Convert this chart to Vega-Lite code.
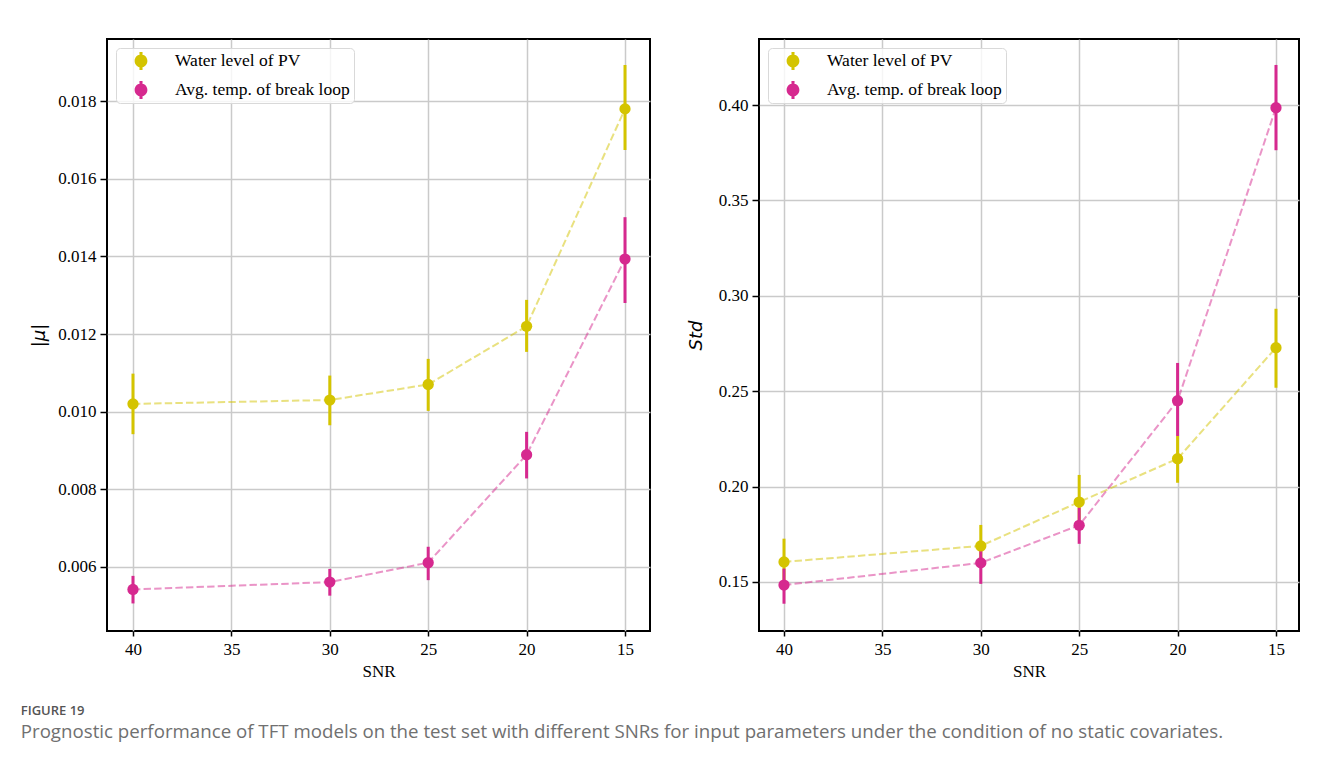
{
  "$schema": "https://vega.github.io/schema/vega-lite/v6.json",
  "padding": {"left": 20, "top": 38, "right": 10, "bottom": 10},
  "background": "white",
  "datasets": {
    "mu": [
      {"snr": 40, "series": "Water level of PV", "value": 0.0102, "lo": 0.00942, "hi": 0.01098},
      {"snr": 30, "series": "Water level of PV", "value": 0.0103, "lo": 0.00965, "hi": 0.01093},
      {"snr": 25, "series": "Water level of PV", "value": 0.0107, "lo": 0.01002, "hi": 0.01136},
      {"snr": 20, "series": "Water level of PV", "value": 0.0122, "lo": 0.01154, "hi": 0.01288},
      {"snr": 15, "series": "Water level of PV", "value": 0.0178, "lo": 0.01674, "hi": 0.01893},
      {"snr": 40, "series": "Avg. temp. of break loop", "value": 0.00542, "lo": 0.00506, "hi": 0.00577},
      {"snr": 30, "series": "Avg. temp. of break loop", "value": 0.00561, "lo": 0.00526, "hi": 0.00595},
      {"snr": 25, "series": "Avg. temp. of break loop", "value": 0.00611, "lo": 0.00566, "hi": 0.00652},
      {"snr": 20, "series": "Avg. temp. of break loop", "value": 0.00889, "lo": 0.00828, "hi": 0.00948},
      {"snr": 15, "series": "Avg. temp. of break loop", "value": 0.01393, "lo": 0.0128, "hi": 0.01501}
    ],
    "std": [
      {"snr": 40, "series": "Water level of PV", "value": 0.1605, "lo": 0.149, "hi": 0.1727},
      {"snr": 30, "series": "Water level of PV", "value": 0.1689, "lo": 0.158, "hi": 0.1799},
      {"snr": 25, "series": "Water level of PV", "value": 0.1919, "lo": 0.178, "hi": 0.2061},
      {"snr": 20, "series": "Water level of PV", "value": 0.2146, "lo": 0.202, "hi": 0.2265},
      {"snr": 15, "series": "Water level of PV", "value": 0.2728, "lo": 0.2518, "hi": 0.2932},
      {"snr": 40, "series": "Avg. temp. of break loop", "value": 0.1484, "lo": 0.1386, "hi": 0.157},
      {"snr": 30, "series": "Avg. temp. of break loop", "value": 0.16, "lo": 0.149, "hi": 0.169},
      {"snr": 25, "series": "Avg. temp. of break loop", "value": 0.1797, "lo": 0.17, "hi": 0.189},
      {"snr": 20, "series": "Avg. temp. of break loop", "value": 0.245, "lo": 0.2265, "hi": 0.2648},
      {"snr": 15, "series": "Avg. temp. of break loop", "value": 0.3986, "lo": 0.3763, "hi": 0.421}
    ]
  },
  "title": {
    "text": "FIGURE 19",
    "subtitle": "Prognostic performance of TFT models on the test set with different SNRs for input parameters under the condition of no static covariates.",
    "orient": "bottom",
    "anchor": "start",
    "frame": "bounds",
    "dx": -9,
    "offset": 25,
    "font": "Open Sans",
    "fontSize": 13,
    "fontWeight": 600,
    "color": "#555555",
    "subtitleFont": "Open Sans",
    "subtitleFontSize": 18.7,
    "subtitleColor": "#707070",
    "subtitlePadding": 5
  },
  "spacing": 35,
  "hconcat": [
    {
      "width": 543,
      "height": 592,
      "data": {"name": "mu"},
      "encoding": {
        "x": {
          "field": "snr", "type": "quantitative",
          "scale": {"domain": [13.73, 41.32], "reverse": true, "nice": false, "zero": false},
          "axis": {"title": "SNR", "values": [15, 20, 25, 30, 35, 40]}
        }
      },
      "layer": [
        {
          "mark": {"type": "line", "strokeDash": [7.4, 3.2], "strokeWidth": 2, "opacity": 0.5},
          "encoding": {
            "y": {
              "field": "value", "type": "quantitative",
              "scale": {"domain": [0.00435, 0.0196], "nice": false, "zero": false},
              "axis": {"title": "|μ|", "values": [0.006, 0.008, 0.01, 0.012, 0.014, 0.016, 0.018], "format": ".3f", "titlePadding": 9}
            },
            "stroke": {
              "field": "series", "type": "nominal",
              "scale": {"domain": ["Avg. temp. of break loop", "Water level of PV"], "range": ["#d6298f", "#d4c400"]},
              "legend": null
            }
          }
        },
        {
          "mark": {"type": "rule", "strokeWidth": 3},
          "encoding": {
            "y": {"field": "lo", "type": "quantitative"},
            "y2": {"field": "hi"},
            "stroke": {"field": "series", "type": "nominal", "legend": null}
          }
        },
        {
          "mark": {"type": "point", "filled": true, "size": 127, "opacity": 1},
          "encoding": {
            "y": {"field": "value", "type": "quantitative"},
            "color": {
              "field": "series", "type": "nominal",
              "scale": {"domain": ["Water level of PV", "Avg. temp. of break loop"], "range": ["#d4c400", "#d6298f"]},
              "legend": {"title": null, "orient": "top-left"}
            }
          }
        }
      ]
    },
    {
      "width": 540,
      "height": 592,
      "data": {"name": "std"},
      "encoding": {
        "x": {
          "field": "snr", "type": "quantitative",
          "scale": {"domain": [13.83, 41.27], "reverse": true, "nice": false, "zero": false},
          "axis": {"title": "SNR", "values": [15, 20, 25, 30, 35, 40]}
        }
      },
      "layer": [
        {
          "mark": {"type": "line", "strokeDash": [7.4, 3.2], "strokeWidth": 2, "opacity": 0.5},
          "encoding": {
            "y": {
              "field": "value", "type": "quantitative",
              "scale": {"domain": [0.1243, 0.4346], "nice": false, "zero": false},
              "axis": {"title": "Std", "values": [0.15, 0.2, 0.25, 0.3, 0.35, 0.4], "format": ".2f", "titlePadding": 13}
            },
            "stroke": {
              "field": "series", "type": "nominal",
              "scale": {"domain": ["Avg. temp. of break loop", "Water level of PV"], "range": ["#d6298f", "#d4c400"]},
              "legend": null
            }
          }
        },
        {
          "mark": {"type": "rule", "strokeWidth": 3},
          "encoding": {
            "y": {"field": "lo", "type": "quantitative"},
            "y2": {"field": "hi"},
            "stroke": {"field": "series", "type": "nominal", "legend": null}
          }
        },
        {
          "mark": {"type": "point", "filled": true, "size": 127, "opacity": 1},
          "encoding": {
            "y": {"field": "value", "type": "quantitative"},
            "color": {
              "field": "series", "type": "nominal",
              "scale": {"domain": ["Water level of PV", "Avg. temp. of break loop"], "range": ["#d4c400", "#d6298f"]},
              "legend": {"title": null, "orient": "top-left"}
            }
          }
        }
      ]
    }
  ],
  "resolve": {"scale": {"color": "independent", "stroke": "independent"}},
  "config": {
    "view": {"stroke": "black", "strokeWidth": 2},
    "legend": {
      "offset": 9,
      "symbolType": "M-0.71,0A0.71,0.71 0 1,1 0.71,0A0.71,0.71 0 1,1 -0.71,0Z M-0.17,-1L0.17,-1L0.17,1L-0.17,1Z",
      "symbolSize": 324, "symbolStrokeWidth": 0, "symbolOpacity": 1, "symbolOffset": 12,
      "labelOffset": 25, "rowPadding": 11, "padding": 4,
      "strokeColor": "#d9d9d9", "cornerRadius": 4, "fillColor": "rgba(255,255,255,0.8)",
      "labelFont": "Liberation Serif", "labelFontSize": 17.5, "labelColor": "black", "labelLimit": 400
    },
    "axis": {
      "domain": false,
      "grid": true,
      "gridColor": "#cacaca",
      "gridWidth": 1.5,
      "tickColor": "black",
      "tickWidth": 1.5,
      "tickSize": 5,
      "labelFont": "Liberation Serif",
      "labelFontSize": 17,
      "labelColor": "black",
      "labelPadding": 4,
      "titleFont": "Liberation Serif",
      "titleFontSize": 17,
      "titleFontWeight": "normal",
      "titleColor": "black"
    },
    "axisX": {"titlePadding": 6, "labelPadding": 5},
    "axisY": {"titleFont": "DejaVu Sans", "titleFontStyle": "italic", "titleFontSize": 18, "tickSize": 7}
  }
}
